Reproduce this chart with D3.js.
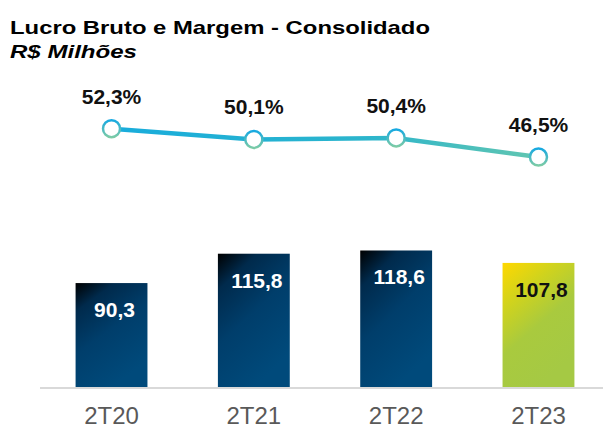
<!DOCTYPE html>
<html>
<head>
<meta charset="utf-8">
<script src="https://cdn.jsdelivr.net/npm/d3@7"></script>
<style>
  body { margin: 0; background: #fff; }
  svg { font-family: Arial, "Liberation Sans", sans-serif; }
</style>
</head>
<body>
<div id="chart"></div>
<script>
// Lucro Bruto e Margem - Consolidado

const periods = ['2T20', '2T21', '2T22', '2T23'];
const lucroBruto = [90.3, 115.8, 118.6, 107.8];
const margem = [52.3, 50.1, 50.4, 46.5];
const fmt = v => d3.format('.1f')(v).replace('.', ',');

const W = 603, H = 430;

const svg = d3.select('#chart')
    .append('svg')
    .attr('width', W)
    .attr('height', H);

const defs = svg.append('defs');

// Bar gradients (dark corner top-left, fading diagonally)
const navy = defs.append('linearGradient')
    .attr('id', 'navy')
    .attr('x1', 0).attr('y1', 0).attr('x2', 0.5).attr('y2', 1);
navy.append('stop').attr('offset', '0%').attr('stop-color', '#000000');
navy.append('stop').attr('offset', '22%').attr('stop-color', '#002a4c');
navy.append('stop').attr('offset', '55%').attr('stop-color', '#003e6b');
navy.append('stop').attr('offset', '100%').attr('stop-color', '#004a7b');

const lime = defs.append('linearGradient')
    .attr('id', 'lime')
    .attr('x1', 0).attr('y1', 0).attr('x2', 0.5).attr('y2', 1);
lime.append('stop').attr('offset', '0%').attr('stop-color', '#ffd800');
lime.append('stop').attr('offset', '30%').attr('stop-color', '#d0d31d');
lime.append('stop').attr('offset', '60%').attr('stop-color', '#a9ca3e');
lime.append('stop').attr('offset', '100%').attr('stop-color', '#a5c944');

// Line gradient
const lineGrad = defs.append('linearGradient')
    .attr('id', 'lineGrad')
    .attr('gradientUnits', 'userSpaceOnUse')
    .attr('x1', 110).attr('y1', 0).attr('x2', 540).attr('y2', 0);
lineGrad.append('stop').attr('offset', '0%').attr('stop-color', '#18acdc');
lineGrad.append('stop').attr('offset', '60%').attr('stop-color', '#2cb5cc');
lineGrad.append('stop').attr('offset', '100%').attr('stop-color', '#62c6b0');

const ringGrad = defs.append('linearGradient')
    .attr('id', 'ringGrad')
    .attr('x1', 0).attr('y1', 0).attr('x2', 0).attr('y2', 1);
ringGrad.append('stop').attr('offset', '0%').attr('stop-color', '#17a9e1');
ringGrad.append('stop').attr('offset', '100%').attr('stop-color', '#7ccba6');

// Scales
const x = d3.scaleBand()
    .domain(periods)
    .range([40, 610])
    .paddingInner(0.495)
    .paddingOuter(0.25);

const y = d3.scaleLinear()
    .domain([0, 150])
    .range([387, 387 - 150 * 1.151]);

const y2 = d3.scaleLinear()
    .domain([40, 55])
    .range([128.7 + 12.3 * 4.88, 128.7 - 2.7 * 4.88]);

// Title (the original is set in a wide face, so stretch to its width)
svg.append('text')
    .attr('x', 10)
    .attr('y', 34)
    .attr('textLength', 420)
    .attr('lengthAdjust', 'spacingAndGlyphs')
    .style('font-size', '19px')
    .style('font-weight', 'bold')
    .text('Lucro Bruto e Margem - Consolidado');

svg.append('text')
    .attr('x', 10)
    .attr('y', 58)
    .attr('textLength', 127)
    .attr('lengthAdjust', 'spacingAndGlyphs')
    .style('font-size', '19px')
    .style('font-weight', 'bold')
    .style('font-style', 'italic')
    .text('R$ Milhões');

// Bars
svg.selectAll('.bar')
    .data(lucroBruto)
    .enter()
    .append('rect')
    .attr('class', 'bar')
    .attr('x', (d, i) => x(periods[i]))
    .attr('y', d => y(d))
    .attr('width', x.bandwidth())
    .attr('height', d => y(0) - y(d))
    .style('fill', (d, i) => i === 3 ? 'url(#lime)' : 'url(#navy)');

svg.selectAll('.bar-label')
    .data(lucroBruto)
    .enter()
    .append('text')
    .attr('class', 'bar-label')
    .attr('x', (d, i) => x(periods[i]) + x.bandwidth() / 2 + 3)
    .attr('y', d => y(d) + 34)
    .style('text-anchor', 'middle')
    .style('font-size', '21px')
    .style('font-weight', 'bold')
    .style('fill', (d, i) => i === 3 ? '#111' : '#fff')
    .text(d => fmt(d));

// Axis baseline
svg.append('line')
    .attr('x1', 40)
    .attr('x2', W)
    .attr('y1', y(0) + 1)
    .attr('y2', y(0) + 1)
    .style('stroke', '#d9d9d9')
    .style('stroke-width', 2);

// Axis labels
const xAxis = svg.append('g')
    .attr('transform', `translate(0,${y(0)})`)
    .call(d3.axisBottom(x).tickSize(0));
xAxis.select('.domain').remove();
xAxis.selectAll('text')
    .attr('y', 37)
    .attr('dy', 0)
    .style('font-family', 'Arial, "Liberation Sans", sans-serif')
    .style('font-size', '24px')
    .style('fill', '#595959');

// Margin line
const cx = (d, i) => x(periods[i]) + x.bandwidth() / 2;
const marginLine = d3.line()
    .x(cx)
    .y(d => y2(d));

svg.append('path')
    .datum(margem)
    .attr('d', marginLine)
    .style('fill', 'none')
    .style('stroke', 'url(#lineGrad)')
    .style('stroke-width', 4.5);

svg.selectAll('.dot')
    .data(margem)
    .enter()
    .append('circle')
    .attr('class', 'dot')
    .attr('cx', cx)
    .attr('cy', d => y2(d))
    .attr('r', 8.5)
    .style('fill', '#fff')
    .style('stroke', 'url(#ringGrad)')
    .style('stroke-width', 2.5);

svg.selectAll('.pct-label')
    .data(margem)
    .enter()
    .append('text')
    .attr('class', 'pct-label')
    .attr('x', cx)
    .attr('y', d => y2(d) - 25)
    .style('text-anchor', 'middle')
    .style('font-size', '21px')
    .style('font-weight', 'bold')
    .style('fill', '#111')
    .text(d => fmt(d) + '%');
</script>
</body>
</html>
